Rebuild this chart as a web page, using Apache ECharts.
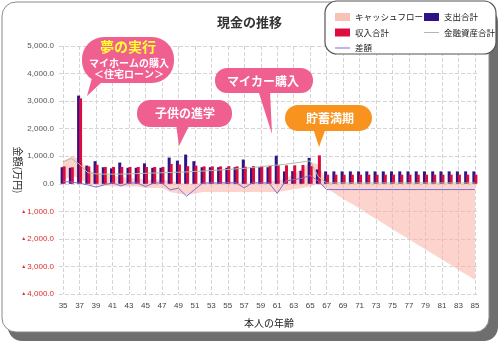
<!DOCTYPE html>
<html><head><meta charset="utf-8">
<script src="https://cdn.jsdelivr.net/npm/echarts@6/dist/echarts.min.js"></script>
<style>html,body{margin:0;padding:0;background:#fff}#c{width:499px;height:342px}</style>
</head><body><div id="c"></div>
<script>
// ---- data ----
const ages = ['35','36','37','38','39','40','41','42','43','44','45','46','47','48','49','50','51','52','53','54','55','56','57','58','59','60','61','62','63','64','65','66','67','68','69','70','71','72','73','74','75','76','77','78','79','80','81','82','83','84','85'];
const expense = [600,580,3200,660,820,600,560,770,580,580,740,580,580,950,840,1060,820,600,600,600,580,600,880,580,600,600,1020,450,460,470,940,520,
  450,450,450,450,450,450,450,450,450,450,450,450,450,450,450,450,450,450,450];
const income = [630,600,3100,630,690,610,610,610,610,610,610,610,610,720,700,640,660,630,630,630,640,630,620,640,650,650,670,670,670,680,640,1030,
  330,330,330,330,330,330,330,330,330,330,330,330,330,330,330,330,330,330,330];
const assets = [800,920,700,400,360,350,350,350,360,370,380,390,400,410,420,430,450,460,480,500,520,540,560,590,620,650,680,710,750,790,830,250,
  30,30,30,30,30,30,30,30,30,30,30,30,30,30,30,30,30,30,30];
const diff = [80,60,20,-40,-120,-40,40,-80,30,30,-100,30,30,-220,-160,-450,-200,30,30,30,40,30,-150,40,30,30,-350,100,150,200,300,100,
  -210,-210,-210,-210,-210,-210,-210,-210,-210,-210,-210,-210,-210,-210,-210,-210,-210,-210,-210];
const cashflowTop = [800,1000,900,500,400,350,300,250,200,200,150,150,150,100,50,0,0,50,50,50,50,50,50,50,50,100,100,200,350,550,800,700,
  100,0,0,0,0,0,0,0,0,0,0,0,0,0,0,0,0,0,0];
const cashflowBottom = [100,300,200,0,-50,-50,-100,-100,-100,-100,-150,-150,-150,-300,-350,-400,-350,-300,-300,-300,-300,-300,-300,-300,-300,-300,-300,-250,-200,-150,-100,0,
  -150,-350,-550,-720,-900,-1100,-1280,-1460,-1650,-1830,-2000,-2200,-2380,-2570,-2750,-2930,-3120,-3300,-3480];
const yMin = -4000, yMax = 5000, yStep = 1000;

// ---- chart ----
const JP = '"Noto Sans CJK JP", sans-serif';
const NUM = '"Liberation Sans", Arial, sans-serif';
const chart = echarts.init(document.getElementById('c'), null, {renderer:'canvas'});
const cfThick = cashflowTop.map((v,i)=>v - cashflowBottom[i]);

function yFmt(v){
  const s = Math.abs(v).toLocaleString('en-US',{minimumFractionDigits:1,maximumFractionDigits:1});
  return v < 0 ? '{t|▲}{n|' + s + '}' : '{p|' + s + '}';
}

function bubble(x,y,w,h,r,color,tail){
  return [
    {type:'rect', z:20, shape:{x:x,y:y,width:w,height:h,r:r}, style:{fill:color}},
    {type:'polygon', z:20, shape:{points:tail}, style:{fill:color}}
  ];
}
function txt(t,x,y,font,fill){
  return {type:'text', z:21, style:{text:t, x:x, y:y, font:font, fill:fill, textAlign:'center', textVerticalAlign:'middle', align:'center', verticalAlign:'middle'}};
}
const PINK = '#ef5f90', ORANGE = '#f7931e';
const LINE_ICON = 'path://M0,0L30,0L30,2L0,2Z';

const graphics = [].concat(
  [
    {type:'rect', z:-10, shape:{x:8,y:8,width:490,height:333,r:14}, style:{fill:'#6e6e6e'}},
    {type:'rect', z:-9, shape:{x:2,y:2,width:487,height:330,r:14}, style:{fill:'#fff', stroke:'#8a8a8a', lineWidth:1}},
    {type:'rect', z:3, shape:{x:325,y:1,width:171,height:53,r:12}, style:{fill:'#fff', stroke:'#555', lineWidth:1.2}}
  ],
  bubble(82,37,92,46,22,PINK,[[92,78],[104,80],[87,96]]),
  [txt('夢の実行',128,47,'bold 14px ' + JP,'#ffff30'),
   txt('マイホームの購入',129,63,'bold 10px ' + JP,'#fff'),
   txt('＜住宅ローン＞',129,74,'bold 10px ' + JP,'#fff')],
  bubble(137,100,95,27,13,PINK,[[176,124],[190,124],[179,146]]),
  [txt('子供の進学',185,113,'bold 12px ' + JP,'#fff')],
  bubble(215,68,98,25,12,PINK,[[258,90],[270,90],[272,134]]),
  [txt('マイカー購入',263,81,'bold 12px ' + JP,'#fff')],
  bubble(285,105,87,26,13,ORANGE,[[313,128],[326,128],[319,147]]),
  [txt('貯蓄満期',330,118,'bold 12px ' + JP,'#fff')]
);

const legendText = {fontFamily:JP, fontSize:8.5, color:'#222', lineHeight:12};
const option = {
  animation:false,
  title:{text:'現金の推移', left:'center', top:11, textStyle:{fontFamily:JP, fontSize:13, fontWeight:'bold', color:'#333'}},
  legend:[
    {orient:'vertical', left:330, top:6, itemGap:3.5, itemWidth:15, itemHeight:8, itemTextGap:3, selectedMode:false, z:5,
     textStyle:legendText,
     data:[{name:'キャッシュフロー', icon:'rect'},{name:'収入合計', icon:'rect'},{name:'差額', icon:LINE_ICON}]},
    {orient:'vertical', left:419, top:6, itemGap:3.5, itemWidth:15, itemHeight:8, itemTextGap:3, selectedMode:false, z:5,
     textStyle:legendText,
     data:[{name:'支出合計', icon:'rect'},{name:'金融資産合計', icon:LINE_ICON}]}
  ],
  grid:{left:59, right:20, top:46, bottom:48, containLabel:false, outerBoundsMode:'none'},
  xAxis:{
    type:'category', data:ages, boundaryGap:true,
    axisLine:{show:false}, axisTick:{show:false},
    axisLabel:{interval:1, fontSize:8, color:'#444', margin:8, fontFamily:NUM},
    splitLine:{show:true, interval:1, alignWithLabel:true, lineStyle:{type:'dashed', color:'#d4d4d4', width:1}},
    name:'本人の年齢', nameLocation:'middle', nameGap:24, nameMoveOverlap:false,
    nameTextStyle:{fontFamily:JP, fontSize:10, color:'#222'}
  },
  yAxis:{
    type:'value', min:yMin, max:yMax, interval:yStep,
    axisLine:{show:false}, axisTick:{show:false},
    axisLabel:{formatter:yFmt, margin:5, rich:{
      p:{fontSize:8, color:'#555', fontFamily:NUM},
      n:{fontSize:8, color:'#e02a2a', fontFamily:NUM},
      t:{fontSize:5, color:'#e02a2a', fontFamily:NUM, padding:[0,1,0,0]}
    }},
    splitLine:{lineStyle:{type:'dashed', color:'#d4d4d4', width:1}},
    name:'金額(万円)', nameLocation:'middle', nameRotate:-90, nameGap:36, nameMoveOverlap:false,
    nameTextStyle:{fontFamily:JP, fontSize:10, color:'#222'}
  },
  series:[
    {name:'cfBase', type:'line', stack:'cf', stackStrategy:'all', data:cashflowBottom, symbol:'none', silent:true,
     lineStyle:{width:0}, itemStyle:{color:'rgba(0,0,0,0)'}, z:1},
    {name:'キャッシュフロー', type:'line', stack:'cf', stackStrategy:'all', data:cfThick, symbol:'none', silent:true,
     lineStyle:{width:0}, itemStyle:{color:'#f8c2b4'}, areaStyle:{color:'rgba(249,178,166,0.8)'}, z:1},
    {name:'支出合計', type:'bar', data:expense, barWidth:3, barGap:'-33%', itemStyle:{color:'#2e1484'}, z:2},
    {name:'収入合計', type:'bar', data:income, barWidth:3, itemStyle:{color:'#dc0c3f'}, z:2},
    {name:'金融資産合計', type:'line', data:assets, symbol:'none', lineStyle:{width:1, color:'#a6c2a6'}, itemStyle:{color:'#b4b4b4'}, z:3},
    {name:'差額', type:'line', data:diff, symbol:'none', lineStyle:{width:1, color:'#7a6fd0'}, itemStyle:{color:'#7a6fd0'}, z:3}
  ],
  graphic:graphics
};
chart.setOption(option);
</script>
</body></html>
